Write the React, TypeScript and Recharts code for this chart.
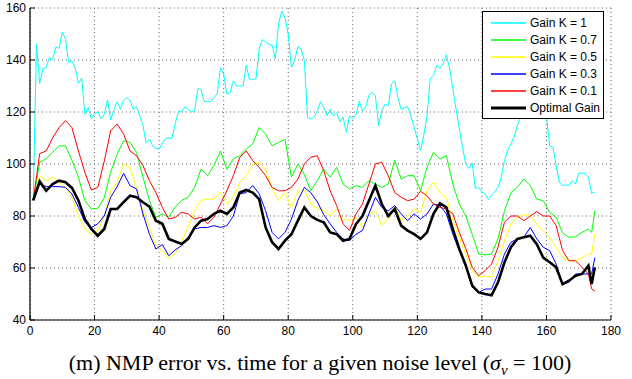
import React from 'react';
import { LineChart, Line, XAxis, YAxis, CartesianGrid, Legend } from 'recharts';

const X_TICKS = [0, 20, 40, 60, 80, 100, 120, 140, 160, 180];
const Y_TICKS = [40, 60, 80, 100, 120, 140, 160];

// time grids (sampling instants)
const T_FINE = Array.from({ length: 175 }, (_, i) => i + 1);
const T_COARSE = [...Array.from({ length: 87 }, (_, i) => 1 + 2 * i), 174, 175];

const GAIN_1 = [
  86, 146, 131, 136.6, 137, 141, 140, 145, 144.5, 150.7,
  148, 139, 139.6, 137, 131, 133, 119, 121.7, 117.4, 119.3,
  120, 117.4, 119, 124.7, 117, 121, 124, 121, 124.5, 125.5,
  124.5, 121, 122, 118.5, 114.8, 108, 109.5, 107, 106, 105.7,
  108, 109.8, 110, 110, 115.5, 120.2, 120, 122, 121, 120,
  120.5, 129, 128.7, 124, 124, 124, 125.5, 127, 137, 134.7,
  126.8, 127.5, 132, 130, 130, 130, 138, 132.7, 132.6, 132.7,
  144.3, 147.8, 147, 146, 145.7, 140.5, 154, 158.8, 156.3, 150,
  137.2, 139.8, 145.2, 144.2, 139.7, 117.8, 117.4, 118, 120.5, 124,
  121.8, 118.6, 121, 118.5, 119.8, 116.4, 118, 112.2, 118.5, 117.4,
  119, 124, 120.4, 122, 126.3, 127.6, 126.3, 114.8, 120.6, 123,
  122.5, 130.8, 132, 125.5, 121, 121.7, 122, 118.5, 114.2, 109.7,
  105.2, 111, 118.5, 132.8, 134, 138, 136.8, 138.7, 142, 136.8,
  129, 121, 113.5, 106.5, 100, 98.3, 100.3, 90.5, 91, 89.2,
  88.5, 86.3, 88, 89.2, 91, 95, 101.3, 105.2, 107.8, 110.4,
  114.8, 118, 123, 128, 131, 131, 128, 124, 121, 118.6,
  107, 106.5, 99.4, 93, 91.7, 92, 91.7, 93.6, 92.3, 96.5,
  96.5, 96.3, 95, 88.8, 89.2,
];

const GAIN_07 = [
  86, 100.6, 102, 104.5, 107, 107, 101.3, 95, 85.9, 82.7,
  83, 87, 96.8, 103.8, 109, 108.3, 104.5, 95, 86, 79.5,
  80.8, 79.5, 83.5, 86, 87.2, 91, 98, 95.5, 99.4, 105,
  98, 102, 103.2, 105.8, 107.7, 114, 111.5, 107, 108.3, 109.5,
  95, 100, 96, 89.7, 93.6, 98, 95, 98.7, 92.3, 90.4,
  91.7, 91, 93.6, 92.3, 91, 92.3, 101.5, 94.2, 95.5, 95.5,
  89.7, 98.7, 104.5, 101.9, 103.2, 92.3, 84.6, 80, 73, 65.4,
  65, 65.4, 71.2, 82, 89, 91, 94.2, 91.7, 86.5, 85.9,
  81.4, 79.5, 73.5, 71.8, 72, 73.7, 75, 73.7, 82,
];

const GAIN_05 = [
  86, 95.5, 93.6, 95, 93, 91, 87.2, 80, 75, 73,
  74.4, 80, 89.7, 93, 100, 98.7, 91, 82, 75.6, 68.6,
  66.7, 63.5, 65.5, 70.5, 75.6, 82, 86, 86.5, 86.5, 89,
  84.6, 87.2, 93, 95.5, 100, 100.5, 98, 90.4, 86, 89,
  83.3, 89.7, 90, 84.6, 83, 82, 80, 82.7, 78.8, 78.2,
  79.5, 75.6, 80.8, 82, 76.3, 78.8, 84, 78.2, 80, 82.7,
  81.4, 89.7, 93, 89, 87.2, 78.2, 71.8, 65.4, 59, 56.4,
  57, 56.4, 62.8, 70.5, 76.9, 79.5, 80.5, 80, 76.9, 74.4,
  71.8, 68, 64, 62.8, 62.8, 64, 65.4, 65.4, 73,
];

const GAIN_03 = [
  86, 92.3, 91.3, 91.3, 91.3, 91, 88.5, 83.3, 77.6, 75.6,
  77, 80, 87.2, 91.3, 96.4, 91.7, 90.4, 80.8, 73, 67.3,
  69, 64.7, 67, 68.6, 71.8, 75, 75.6, 75.6, 76.3, 75.6,
  76.3, 80, 88.5, 89, 91.7, 88.5, 82, 73.7, 71.2, 73.7,
  78.8, 86, 91, 89, 85.5, 80.5, 77, 73.7, 71.2, 70.5,
  73, 74.4, 80.8, 87.2, 83.3, 82, 84, 80.8, 78.2, 80.8,
  78.8, 80.8, 84.6, 84, 80.8, 73, 66.7, 61.5, 52.6, 50.6,
  51.9, 51.9, 57.7, 65.4, 69.9, 71.2, 71.8, 75.6, 71.2, 68,
  66.7, 61.5, 53.8, 54.5, 57.7, 57.7, 57.7, 57.7, 64,
];

const GAIN_01 = [
  86, 104, 105, 110, 114, 116.7, 114, 105, 96.8, 90,
  91, 101, 112.8, 115.4, 111.5, 105, 103.2, 99.4, 93.6, 89,
  83.3, 78.8, 79.5, 81.4, 80.8, 78.8, 79.5, 77, 79.5, 84.6,
  89.7, 95.5, 102.6, 105, 101.3, 98.7, 95.5, 91, 89.7, 89.7,
  91, 94.2, 100, 102.6, 103.2, 97.4, 89.7, 84, 77, 74.4,
  80.8, 84.6, 92.3, 100, 100.6, 95.5, 89, 87.2, 85.9, 86.5,
  89.5, 87.8, 84.6, 83.3, 82.7, 80.8, 73.7, 67.5, 60.3, 57,
  59, 61.5, 68, 77.6, 80, 80, 78.2, 80, 81.7, 80,
  80, 76.3, 66.7, 62.8, 62.8, 60.3, 57.7, 52, 51,
];

const OPTIMAL = [
  86, 93.3, 89.7, 92.3, 93.6, 93, 90.8, 86, 78.8, 75,
  72.4, 75, 82.7, 82.7, 85.3, 87.8, 87.2, 85.3, 83.6, 78.2,
  77, 71.2, 70.2, 69.2, 71.2, 75.6, 78.2, 78.8, 80.8, 82,
  80.8, 83.3, 89, 90, 89, 86.5, 75.6, 69.9, 67.3, 70.5,
  73, 78.2, 83.3, 80, 78.5, 77.6, 73.7, 73, 70.5, 71.2,
  76.9, 80, 85.9, 91.7, 84.6, 80, 82.7, 76.3, 74.4, 73,
  71.2, 73.7, 80.8, 84.9, 83.3, 75, 67.3, 61, 53.2, 50.6,
  50, 49.5, 54.5, 62.2, 68, 71.2, 71.8, 72.4, 69.2, 64,
  62.2, 60.3, 53.8, 55.1, 57, 57.7, 60.9, 53.8, 60.3,
];

const SERIES_NAMES = ['Gain K = 1', 'Gain K = 0.7', 'Gain K = 0.5', 'Gain K = 0.3', 'Gain K = 0.1', 'Optimal Gain'];

const toData = (ts: number[], vs: number[]) => ts.map((t, i) => ({ t, v: vs[i] }));

const SERIES = [
  { name: SERIES_NAMES[0], data: toData(T_FINE, GAIN_1), color: '#00FFFF', width: 1 },
  { name: SERIES_NAMES[1], data: toData(T_COARSE, GAIN_07), color: '#00FF00', width: 1 },
  { name: SERIES_NAMES[2], data: toData(T_COARSE, GAIN_05), color: '#FFFF00', width: 1 },
  { name: SERIES_NAMES[3], data: toData(T_COARSE, GAIN_03), color: '#0000FF', width: 1 },
  { name: SERIES_NAMES[4], data: toData(T_COARSE, GAIN_01), color: '#FF0000', width: 1 },
  { name: SERIES_NAMES[5], data: toData(T_COARSE, OPTIMAL), color: '#000000', width: 2.6 },
];

const FONT = '"Liberation Sans", Arial, Helvetica, sans-serif';

const LegendBox = () => (
  <div
    style={{
      background: '#fff',
      border: '1px solid #000',
      padding: '2px 4px 2px 8px',
      fontFamily: FONT,
      fontSize: 12,
      color: '#000',
      width: 108,
    }}
  >
    {SERIES.map((s) => (
      <div key={s.name} style={{ display: 'flex', alignItems: 'center', height: 17, whiteSpace: 'nowrap' }}>
        <svg width={35} height={6} style={{ marginRight: 4, flex: 'none' }}>
          <line x1={0} y1={3} x2={35} y2={3} stroke={s.color} strokeWidth={s.width === 1 ? 1.5 : 3} />
        </svg>
        <span>{s.name}</span>
      </div>
    ))}
  </div>
);

export default function App() {
  const tickStyle = { fontSize: 12, fill: '#000', fontFamily: FONT };
  return (
    <div style={{ position: 'absolute', left: 0, top: 0, width: 632, height: 379, background: '#fff', overflow: 'hidden' }}>
      <LineChart width={632} height={345} margin={{ top: 8, right: 21, bottom: 0, left: 0 }}>
        <CartesianGrid stroke="#666" strokeDasharray="1 3" />
        <XAxis
          dataKey="t"
          type="number"
          domain={[0, 180]}
          ticks={X_TICKS}
          allowDataOverflow
          height={25}
          tickSize={-5}
          tickMargin={11}
          tick={tickStyle}
          axisLine={{ stroke: '#000', strokeWidth: 1.2 }}
          tickLine={{ stroke: '#000' }}
        />
        <XAxis
          xAxisId="top"
          orientation="top"
          dataKey="t"
          type="number"
          domain={[0, 180]}
          ticks={X_TICKS}
          allowDataOverflow
          height={0}
          tickSize={-5}
          tick={false}
          axisLine={{ stroke: '#000', strokeWidth: 1.2 }}
          tickLine={{ stroke: '#000' }}
        />
        <YAxis
          type="number"
          domain={[40, 160]}
          ticks={Y_TICKS}
          allowDataOverflow
          width={30}
          tickSize={-5}
          tickMargin={9}
          tick={tickStyle}
          axisLine={{ stroke: '#000', strokeWidth: 1.2 }}
          tickLine={{ stroke: '#000' }}
        />
        <YAxis
          yAxisId="right"
          orientation="right"
          type="number"
          domain={[40, 160]}
          ticks={Y_TICKS}
          allowDataOverflow
          width={0}
          tickSize={-5}
          tick={false}
          axisLine={{ stroke: '#000', strokeWidth: 1.2 }}
          tickLine={{ stroke: '#000' }}
        />
        {SERIES.map((s) => (
          <Line
            key={s.name}
            data={s.data}
            dataKey="v"
            name={s.name}
            type="linear"
            stroke={s.color}
            strokeWidth={s.width}
            dot={false}
            activeDot={false}
            isAnimationActive={false}
          />
        ))}
        <Legend
          layout="vertical"
          align="center"
          verticalAlign="middle"
          content={() => <LegendBox />}
          wrapperStyle={{ left: 482, top: 11, width: 'auto', height: 'auto' }}
        />
      </LineChart>
      <div
        style={{
          position: 'absolute',
          left: 0,
          top: 352,
          width: 640,
          textAlign: 'center',
          fontFamily: '"Liberation Serif", "Times New Roman", serif',
          fontSize: 22,
          lineHeight: '22px',
          color: '#000',
          whiteSpace: 'nowrap',
        }}
      >
        (m) NMP error vs. time for a given noise level (<i>σ</i>
        <sub style={{ fontSize: 15, lineHeight: 0 }}>
          <i>ν</i>
        </sub>{' '}
        = 100)
      </div>
    </div>
  );
}
